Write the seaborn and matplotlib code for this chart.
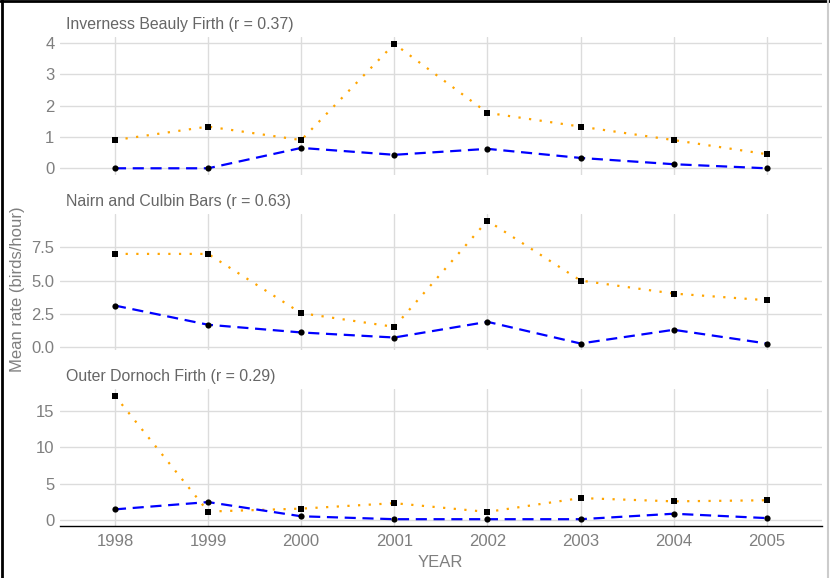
import pandas as pd
import numpy as np
import matplotlib
matplotlib.use("Agg")
import matplotlib.pyplot as plt
import seaborn as sns
from matplotlib.lines import Line2D

years = [1998, 1999, 2000, 2001, 2002, 2003, 2004, 2005]
sites = ["Inverness Beauly Firth", "Nairn and Culbin Bars", "Outer Dornoch Firth"]
r_values = [0.37, 0.63, 0.29]

# orange / squares
rate_a = {
    "Inverness Beauly Firth": [0.9, 1.33, 0.9, 3.97, 1.77, 1.33, 0.9, 0.45],
    "Nairn and Culbin Bars": [7.0, 7.0, 2.55, 1.52, 9.5, 5.0, 4.02, 3.52],
    "Outer Dornoch Firth": [17.1, 1.2, 1.6, 2.35, 1.15, 3.05, 2.6, 2.75],
}
# blue / circles
rate_b = {
    "Inverness Beauly Firth": [0.0, 0.0, 0.65, 0.43, 0.62, 0.33, 0.13, 0.0],
    "Nairn and Culbin Bars": [3.12, 1.68, 1.1, 0.72, 1.9, 0.27, 1.3, 0.27],
    "Outer Dornoch Firth": [1.5, 2.5, 0.55, 0.15, 0.15, 0.15, 0.9, 0.3],
}
y_ticks = [[0, 1, 2, 3, 4], [0.0, 2.5, 5.0, 7.5], [0, 5, 10, 15]]
y_labels = [["0", "1", "2", "3", "4"], ["0.0", "2.5", "5.0", "7.5"], ["0", "5", "10", "15"]]

rows = []
for s in sites:
    for i, yr in enumerate(years):
        rows.append({"site": s, "YEAR": yr, "series": "a", "rate": rate_a[s][i]})
        rows.append({"site": s, "YEAR": yr, "series": "b", "rate": rate_b[s][i]})
df = pd.DataFrame(rows)

sns.set_theme(style="whitegrid")
plt.rcParams["font.family"] = ["Liberation Sans", "DejaVu Sans"]

fig = plt.figure(figsize=(8.3, 5.78), dpi=100)
# panel boxes in figure fractions (top, bottom)
boxes = [(0.936, 0.697), (0.630, 0.394), (0.327, 0.090)]
left, right = 0.0723, 0.990
grey = "#7f7f7f"

for k, s in enumerate(sites):
    top, bot = boxes[k]
    ax = fig.add_axes([left, bot, right - left, top - bot])
    d = df[df.site == s]
    da = d[d.series == "a"]
    db = d[d.series == "b"]
    sns.lineplot(data=da, x="YEAR", y="rate", ax=ax, color="orange", linewidth=1.6)
    ax.lines[-1].set_dashes([1, 3.8])
    sns.lineplot(data=db, x="YEAR", y="rate", ax=ax, color="blue", linewidth=1.6)
    ax.lines[-1].set_dashes([5, 3])
    sns.scatterplot(data=da, x="YEAR", y="rate", ax=ax, color="black",
                    marker="s", s=22, linewidth=0, zorder=5)
    sns.scatterplot(data=db, x="YEAR", y="rate", ax=ax, color="black",
                    marker="o", s=20, linewidth=0, zorder=5)

    vals = rate_a[s] + rate_b[s]
    lo, hi = min(vals), max(vals)
    pad = (hi - lo) * 0.055
    ax.set_ylim(lo - pad, hi + pad)
    ax.set_xlim(1997.41, 2005.59)
    ax.set_yticks(y_ticks[k])
    ax.set_yticklabels(y_labels[k])
    ax.set_xticks(years)
    ax.grid(True, color="#dcdcdc", linewidth=1.0)
    ax.set_xlabel("")
    ax.set_ylabel("")
    for sp in ax.spines.values():
        sp.set_visible(False)
    ax.tick_params(axis="both", colors=grey, labelsize=12, length=0, pad=4)
    if k < 2:
        ax.set_xticklabels([])
    else:
        ax.spines["bottom"].set_visible(True)
        ax.spines["bottom"].set_color("black")
        ax.spines["bottom"].set_linewidth(1.0)
        ax.tick_params(axis="x", pad=6)
    ax.text(0.008, 1.035, f"{s} (r = {r_values[k]:.2f})", transform=ax.transAxes,
            ha="left", va="bottom", color="#666666", fontsize=11.4)

fig.text(0.0205, 0.5, "Mean rate (birds/hour)", rotation=90, ha="center", va="center",
         color=grey, fontsize=12)
fig.text(0.531, 0.026, "YEAR", ha="center", va="center", color=grey, fontsize=12)

# screenshot frame
fig.add_artist(Line2D([0.002, 0.002], [0, 1], color="black", linewidth=2, transform=fig.transFigure))
fig.add_artist(Line2D([0, 1], [0.998, 0.998], color="black", linewidth=2, transform=fig.transFigure))
fig.add_artist(Line2D([0.9975, 0.9975], [0, 1], color="#cccccc", linewidth=1.5, transform=fig.transFigure))

fig.savefig("out.png", dpi=100)
